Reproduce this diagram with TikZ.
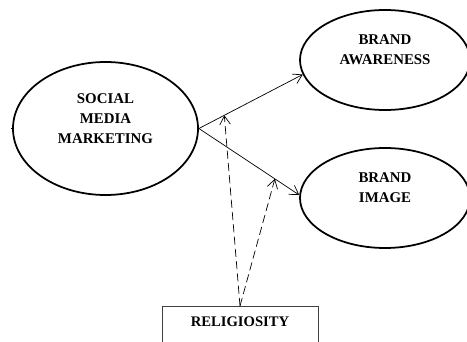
\documentclass[tikz,border=0pt]{standalone}
\usepackage{fontspec}
\setmainfont{Liberation Serif}
\usetikzlibrary{shapes.geometric,arrows.meta}

\tikzset{
	construct/.style={draw, ellipse, line width=1.5pt, align=center, inner sep=0pt,
		font=\bfseries\fontsize{12.7}{17}\selectfont},
	moderator/.style={draw=black!75, line width=0.6pt, minimum width=4.68cm, inner ysep=8pt,
		text height=9pt, text depth=30pt, font=\bfseries\fontsize{12.5}{17}\selectfont},
	link/.style={line width=0.6pt, -{Straight Barb[length=2.6mm,width=3.2mm]}},
	modlink/.style={link, dash pattern=on 7pt off 3.5pt}
}

\begin{document}
\begin{tikzpicture}[x=0.03cm, y=-0.03cm]
			%%%%% START %%%%%
			\clip (0, 0) rectangle (467, 342);
			
			\node[construct, minimum width=5.55cm, minimum height=3.99cm] (smm) at (105.5, 128.5) {SOCIAL\\MEDIA\\MARKETING\\\mbox{}};
			\node[construct, minimum width=5.1cm, minimum height=3cm] (aware) at (385, 60) {BRAND\\AWARENESS\\\mbox{}};
			\node[construct, minimum width=5.1cm, minimum height=3cm] (image) at (385, 198) {BRAND\\IMAGE\\\mbox{}};
			
			\node[moderator, anchor=north] (rel) at (240, 306) {RELIGIOSITY};
			
			% stub on the left of the outline
			\coordinate (stub) at (10.5, 128.5);
			\draw[line width=1.5pt] (smm.west) -- (stub);
			
			% direct effects
			\draw[link] (smm.east) -- (aware.190) coordinate[pos=0.245] (awmid);
			\draw[link] (smm.east) -- (image.178) coordinate[pos=0.757] (immid);
			
			% moderation
			\draw[modlink] (rel.north) -- (awmid);
			\draw[modlink] (rel.north) -- (immid);
			
			%%%%% END %%%%%
\end{tikzpicture}
\end{document}
